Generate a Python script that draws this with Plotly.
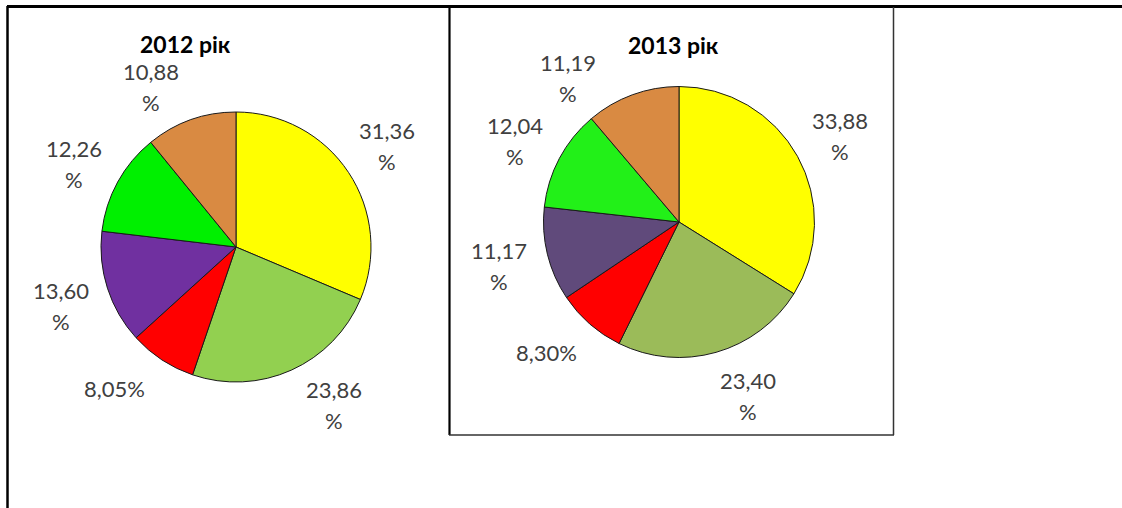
import math
import plotly.graph_objects as go

# ---- data ----
categories = ["A", "B", "C", "D", "E", "F"]
values_2012 = [31.36, 23.86, 8.05, 13.60, 12.26, 10.88]
values_2013 = [33.88, 23.40, 8.30, 11.17, 12.04, 11.19]
titles = ["2012 рік", "2013 рік"]
colors_2012 = ["#FFFF00", "#92D050", "#FF0000", "#7030A0", "#00F000", "#D98A42"]
colors_2013 = ["#FFFF00", "#9BBB59", "#FF0000", "#604A7B", "#22F018", "#D98A42"]

W, H = 1122, 508

# layout: pie geometry in pixels and small angular nudges for data labels (degrees)
pies = [
    dict(values=values_2012, colors=colors_2012, title=titles[0], cx=236, cy=247, r=135,
         tx=185, ty=44, nudge=[-1, -8, 8, 0, -1, -8]),
    dict(values=values_2013, colors=colors_2013, title=titles[1], cx=679, cy=222, r=135.5,
         tx=673, ty=45, nudge=[0, -6, 5, 1, -1, -17]),
]

def px2paper(x, y):
    return x / W, 1 - y / H

fig = go.Figure()
annotations = []
label_font = dict(family="Lato, 'Open Sans', sans-serif", size=22, color="#404040")

for p in pies:
    x0, y1 = px2paper(p["cx"] - p["r"], p["cy"] - p["r"])
    x1, y0 = px2paper(p["cx"] + p["r"], p["cy"] + p["r"])
    fig.add_trace(go.Pie(
        labels=categories, values=p["values"], sort=False, direction="clockwise",
        rotation=0, textinfo="none", showlegend=False,
        marker=dict(colors=p["colors"], line=dict(color="#1a1a1a", width=1)),
        domain=dict(x=[x0, x1], y=[y0, y1]),
    ))
    total = sum(p["values"])
    cum = 0.0
    for v, nd in zip(p["values"], p["nudge"]):
        mid = (cum + v / 2) / total * 2 * math.pi + math.radians(nd)
        cum += v
        k = 1.36
        lx = p["cx"] + k * p["r"] * math.sin(mid)
        ly = p["cy"] - k * p["r"] * math.cos(mid) + 3
        ax, ay = px2paper(lx, ly)
        txt = f"{v:.2f}".replace(".", ",")
        if v >= 10:
            annotations.append(dict(x=ax, y=ay, xref="paper", yref="paper", text=txt,
                                    showarrow=False, font=label_font, yshift=15.5,
                                    xanchor="center", yanchor="middle"))
            annotations.append(dict(x=ax, y=ay, xref="paper", yref="paper", text="%",
                                    showarrow=False, font=label_font, yshift=-15.5,
                                    xanchor="center", yanchor="middle"))
        else:
            annotations.append(dict(x=ax, y=ay, xref="paper", yref="paper", text=txt + "%",
                                    showarrow=False, font=label_font,
                                    xanchor="center", yanchor="middle"))
    tx, ty = px2paper(p["tx"], p["ty"])
    annotations.append(dict(x=tx, y=ty, xref="paper", yref="paper", text="<b>" + p["title"] + "</b>",
                            showarrow=False, xanchor="center", yanchor="middle",
                            font=dict(family="Lato, 'Open Sans', sans-serif", size=23, color="#000000")))

def line(xa, ya, xb, yb, w, c="#000000"):
    a = px2paper(xa, ya)
    b = px2paper(xb, yb)
    return dict(type="line", xref="paper", yref="paper", x0=a[0], y0=a[1], x1=b[0], y1=b[1],
                line=dict(color=c, width=w))

shapes = [
    line(7, 6.5, W, 6.5, 3),
    line(7.5, 6, 7.5, H, 2.5),
    line(449.5, 7, 449.5, 435, 2.2),
    line(893.5, 7, 893.5, 435, 1.5, "#333333"),
    line(449, 435, 894, 435, 1.5, "#333333"),
]

fig.update_layout(
    width=W, height=H, margin=dict(l=0, r=0, t=0, b=0),
    paper_bgcolor="white", plot_bgcolor="white",
    annotations=annotations, shapes=shapes, showlegend=False,
)

fig.write_html("out.html", config={"displayModeBar": False},
               post_script="document.body.style.margin='0';document.body.style.overflow='hidden';")
